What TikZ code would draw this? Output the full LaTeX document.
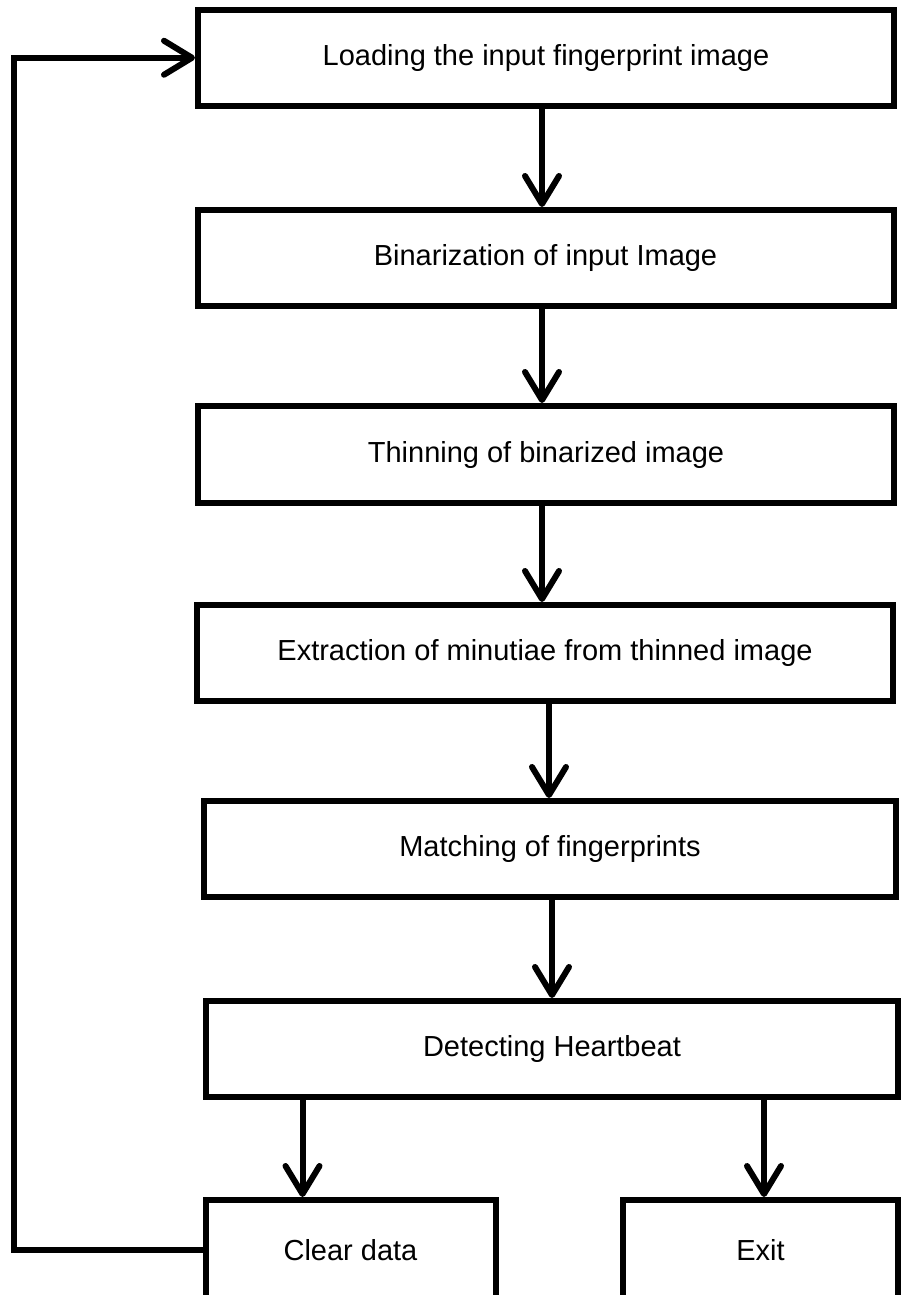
\documentclass[tikz,border=0pt]{standalone}
\usepackage{fontspec}
\setmainfont{Liberation Sans}
\usepackage{tikz}
\usetikzlibrary{arrows.meta,positioning,calc}

\begin{document}
\begin{tikzpicture}[x=1pt,y=-1pt,
    stepbox/.style={draw,line width=6pt,minimum width=696pt,minimum height=96pt,
      inner sep=0pt,font=\fontsize{29}{34}\selectfont},
    flow/.style={line width=6pt,-{Straight Barb[length=28pt,width=34pt,round]}}]
  \useasboundingbox (0,0) rectangle (908,1295);
  \node[stepbox] (load) at (546,57.75) {Loading the input fingerprint image};
  \node[stepbox] (bin) at (545.5,258) {Binarization of input Image};
  \node[stepbox,minimum height=97pt] (thin) at (546,454.5) {Thinning of binarized image};
  \node[stepbox] (extr) at (545,653) {Extraction of minutiae from thinned image};
  \node[stepbox,minimum width=692pt] (match) at (550,849) {Matching of fingerprints};
  \node[stepbox,minimum width=692pt] (detect) at (552,1049) {Detecting Heartbeat};
  \node[stepbox,minimum width=290pt,minimum height=100pt] (clear) at (350.5,1250) {Clear data};
  \node[stepbox,minimum width=275pt,minimum height=100pt] (exit) at (760.5,1250) {Exit};
  \coordinate (back) at (14,0);
  % main flow
  \draw[flow] ([xshift=-4pt]load.south) -- ([xshift=-3.5pt]bin.north);
  \draw[flow] ([xshift=-3.5pt]bin.south) -- ([xshift=-4pt]thin.north);
  \draw[flow] ([xshift=-4pt]thin.south) -- ([xshift=-3pt]extr.north);
  \draw[flow] ([xshift=4pt]extr.south) -- ([xshift=-1pt]match.north);
  \draw[flow] ([xshift=2pt]match.south) -- ([xshift=0pt]detect.north);
  \draw[flow] ([xshift=-249.5pt]detect.south) -- ([xshift=-48pt]clear.north);
  \draw[flow] ([xshift=212pt]detect.south) -- ([xshift=3.5pt]exit.north);
  % back to start
  \draw[flow] (clear.west) -- (clear.west -| back) |- (load.west);
\end{tikzpicture}
\end{document}
